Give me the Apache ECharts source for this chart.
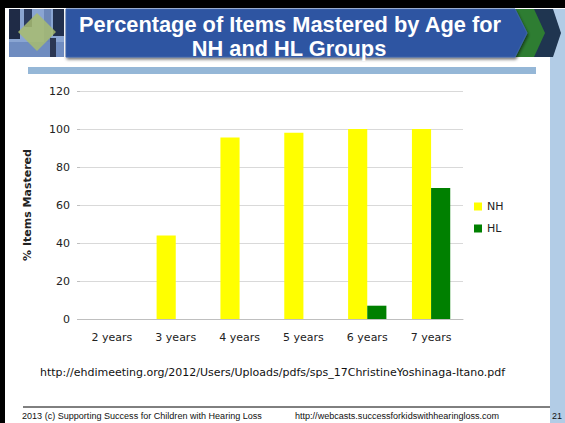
<!DOCTYPE html>
<html>
<head>
<meta charset="utf-8">
<script src="https://cdn.jsdelivr.net/npm/echarts@6/dist/echarts.min.js"></script>
<style>
html,body{margin:0;padding:0;background:#fff;}
#c{width:565px;height:423px;}
</style>
</head>
<body>
<div id="c"></div>
<script>
// ---- data ----
var categories = ['2 years', '3 years', '4 years', '5 years', '6 years', '7 years'];
var nhValues = [0, 44, 95.5, 98, 100, 100];
var hlValues = [0, 0, 0, 0, 7, 69];
var yTicks = [0, 20, 40, 60, 80, 100, 120];
var seriesNames = ['NH', 'HL'];
var titleLines = ['Percentage of Items Mastered by Age for', 'NH and HL Groups'];
var yAxisTitle = '% Items Mastered';
var sourceUrl = 'http://ehdimeeting.org/2012/Users/Uploads/pdfs/sps_17ChristineYoshinaga-Itano.pdf';
var footerLeft = '2013 (c) Supporting Success for Children with Hearing Loss';
var footerMid = 'http://webcasts.successforkidswithhearingloss.com';
var pageNumber = '21';

// font sizing helper: fit text into a target width
var cv = document.createElement('canvas').getContext('2d');
function fitSize(text, family, weight, target) {
  cv.font = weight + ' 20px ' + family;
  var w = cv.measureText(text).width;
  return 20 * target / w;
}
var titleSize = fitSize(titleLines[0], '"Liberation Sans"', 'bold', 423);
var urlSize = fitSize(sourceUrl, '"DejaVu Sans"', 'normal', 465);
var footSize = fitSize(footerLeft, '"Liberation Sans"', 'normal', 240);

var chart = echarts.init(document.getElementById('c'), null, {renderer: 'svg'});
var axisFont = '"DejaVu Sans", sans-serif';

var option = {
  backgroundColor: '#ffffff',
  animation: false,
  grid: {left: 80, right: 102, top: 91, bottom: 104},
  legend: {
    data: seriesNames,
    orient: 'vertical',
    left: 474,
    top: 201,
    itemWidth: 8,
    itemHeight: 8,
    itemGap: 11,
    icon: 'rect',
    padding: 0,
    textStyle: {fontFamily: axisFont, fontSize: 11, color: '#222'}
  },
  xAxis: {
    type: 'category',
    data: categories,
    axisLine: {lineStyle: {color: '#bfbfbf'}},
    axisTick: {length: 4, lineStyle: {color: '#bfbfbf'}},
    axisLabel: {fontFamily: axisFont, fontSize: 11, color: '#222', margin: 13}
  },
  yAxis: {
    type: 'value',
    min: yTicks[0],
    max: yTicks[yTicks.length - 1],
    interval: yTicks[1] - yTicks[0],
    name: yAxisTitle,
    nameLocation: 'middle',
    nameGap: 47,
    nameTextStyle: {fontFamily: axisFont, fontSize: 11, fontWeight: 'bold', color: '#222'},
    axisLine: {show: false},
    axisTick: {show: true, length: 3, lineStyle: {color: '#bfbfbf'}},
    axisLabel: {fontFamily: axisFont, fontSize: 11, color: '#222', margin: 10},
    splitLine: {lineStyle: {color: '#d9d9d9'}}
  },
  series: [
    {name: seriesNames[0], type: 'bar', data: nhValues, barGap: '0%', barCategoryGap: '40%',
     itemStyle: {color: '#ffff00'}},
    {name: seriesNames[1], type: 'bar', data: hlValues, barGap: '0%', barCategoryGap: '40%',
     itemStyle: {color: '#008000'}}
  ],
  graphic: [
    // frame
    {type: 'rect', shape: {x: 0, y: 0, width: 5, height: 423}, style: {fill: '#000'}, z: 100},
    {type: 'rect', shape: {x: 0, y: 0, width: 565, height: 8}, style: {fill: '#000'}, z: 100},
    {type: 'rect', shape: {x: 550, y: 9, width: 15, height: 414}, style: {fill: '#b2cce6'}, z: 100},
    // logo
    {type: 'rect', shape: {x: 9, y: 9, width: 55, height: 48}, style: {fill: '#8aa5d2'}, z: 101},
    {type: 'rect', shape: {x: 9, y: 9, width: 11, height: 30}, style: {fill: '#1f2b46'}, z: 101},
    {type: 'rect', shape: {x: 24, y: 9, width: 8, height: 18}, style: {fill: '#2b3b60'}, z: 101},
    {type: 'rect', shape: {x: 44, y: 9, width: 7, height: 48}, style: {fill: '#6c87b8'}, z: 101},
    {type: 'rect', shape: {x: 53, y: 9, width: 11, height: 27}, style: {fill: '#22304e'}, z: 101},
    {type: 'rect', shape: {x: 9, y: 42, width: 55, height: 15}, style: {fill: '#6f8cc0'}, z: 101},
    {type: 'rect', shape: {x: 50, y: 38, width: 6, height: 19}, style: {fill: '#2a3652'}, z: 101},
    {type: 'polygon', shape: {points: [[37, 13], [56, 32], [37, 51], [18, 32]]},
     style: {fill: 'rgba(168,188,112,0.85)'}, z: 102},
    // banner chevrons
    {type: 'polygon', shape: {points: [[525, 9], [553, 9], [561, 33], [553, 57], [525, 57]]},
     style: {fill: '#1f3550'}, z: 101},
    {type: 'polygon', shape: {points: [[505, 9], [534, 9], [545, 33], [534, 57], [505, 57]]},
     style: {fill: '#2e7d32'}, z: 102},
    {type: 'polygon', shape: {points: [[66, 9], [515, 9], [527, 33], [515, 57], [66, 57]]},
     style: {fill: '#2d55a2', stroke: '#3e63aa', lineWidth: 1,
       shadowColor: 'rgba(0,0,0,0.55)', shadowBlur: 3, shadowOffsetY: 2, shadowOffsetX: 1}, z: 103},
    {type: 'text', x: 290, y: 24.5, z: 104,
     style: {text: titleLines[0], fill: '#fff', font: 'bold ' + titleSize.toFixed(2) + 'px "Liberation Sans", Arial, sans-serif',
       align: 'center', verticalAlign: 'middle'}},
    {type: 'text', x: 289, y: 48, z: 104,
     style: {text: titleLines[1], fill: '#fff', font: 'bold ' + titleSize.toFixed(2) + 'px "Liberation Sans", Arial, sans-serif',
       align: 'center', verticalAlign: 'middle'}},
    // bar under title
    {type: 'rect', shape: {x: 28, y: 67, width: 508, height: 7}, style: {fill: '#95b7d7'}, z: 100},
    // source url
    {type: 'text', x: 40, y: 372, z: 104,
     style: {text: sourceUrl, fill: '#111', font: urlSize.toFixed(2) + 'px "DejaVu Sans", sans-serif',
       align: 'left', verticalAlign: 'middle'}},
    // footer
    {type: 'line', shape: {x1: 23, y1: 407, x2: 550, y2: 407}, style: {stroke: '#000', lineWidth: 1}, z: 104},
    {type: 'text', x: 22, y: 416, z: 104,
     style: {text: footerLeft, fill: '#111', font: footSize.toFixed(2) + 'px "Liberation Sans", Arial, sans-serif',
       align: 'left', verticalAlign: 'middle'}},
    {type: 'text', x: 295, y: 416, z: 104,
     style: {text: footerMid, fill: '#111', font: footSize.toFixed(2) + 'px "Liberation Sans", Arial, sans-serif',
       align: 'left', verticalAlign: 'middle'}},
    {type: 'text', x: 552, y: 416, z: 104,
     style: {text: pageNumber, fill: '#111', font: '9px "Liberation Sans", Arial, sans-serif',
       align: 'left', verticalAlign: 'middle'}}
  ]
};
chart.setOption(option);
</script>
</body>
</html>
